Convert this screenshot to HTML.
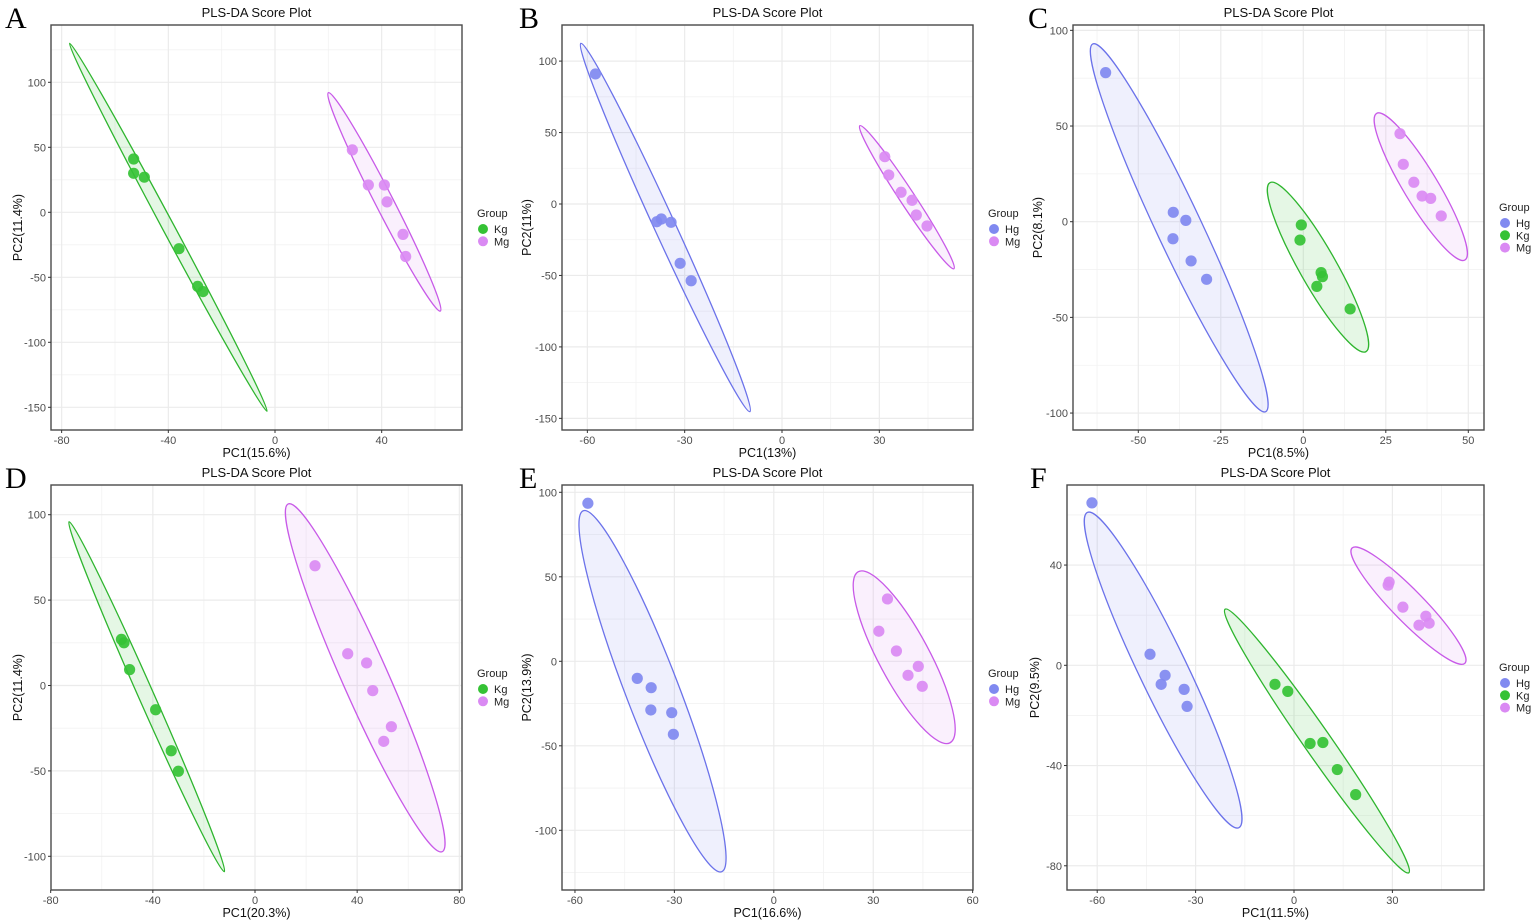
<!DOCTYPE html>
<html><head><meta charset="utf-8">
<style>
html,body{margin:0;padding:0;background:#fff;}
svg{display:block;font-family:"Liberation Sans",sans-serif;}
</style></head>
<body>
<svg id="fig" width="1535" height="923" viewBox="0 0 1535 923" xmlns="http://www.w3.org/2000/svg"></svg>
<script>
// ---- data (PC1 / PC2 scores) ----
const groupNames = ["Hg","Kg","Mg"];
// Panel A
const aKgX = [-53,-53,-49,-36,-29,-27];
const aKgY = [41,30,27,-28,-57,-61];
const aMgX = [29,35,41,42,48,49];
const aMgY = [48,21,21,8,-17,-34];
// Panel B
const bHgX = [-57.5,-38.6,-37.2,-34.2,-31.4,-28];
const bHgY = [91,-12.4,-10.5,-12.8,-41.5,-53.7];
const bMgX = [31.7,32.9,36.7,40.1,41.4,44.7];
const bMgY = [33.1,20.3,8.2,2.6,-7.7,-15.4];
// Panel C
const cHgX = [-59.9,-39.4,-35.6,-39.5,-34,-29.3];
const cHgY = [77.9,4.9,0.7,-8.9,-20.5,-30.1];
const cKgX = [-0.6,-1,5.4,5.8,4.1,14.2];
const cKgY = [-1.7,-9.6,-26.6,-28.7,-33.8,-45.6];
const cMgX = [29.3,30.3,33.5,36,38.6,41.8];
const cMgY = [46,30,20.6,13.4,12.2,3];
// Panel D
const dKgX = [-52.3,-51.3,-49.1,-38.9,-32.8,-30];
const dKgY = [27,25,9.3,-14.2,-38.2,-50.2];
const dMgX = [23.5,36.3,43.7,46.1,53.4,50.4];
const dMgY = [70.1,18.6,13.2,-3,-24.1,-32.7];
// Panel E
const eHgX = [-56.1,-41.2,-37,-37.1,-30.8,-30.3];
const eHgY = [93.5,-10.1,-15.6,-28.8,-30.4,-43.2];
const eMgX = [34.3,31.7,37,43.6,40.5,44.8];
const eMgY = [36.9,17.8,6.1,-3,-8.3,-14.8];
// Panel F
const fHgX = [-61.6,-43.9,-39.3,-40.5,-33.5,-32.6];
const fHgY = [64.8,4.4,-4,-7.6,-9.6,-16.4];
const fKgX = [-5.8,-1.9,4.9,8.8,13.2,18.8];
const fKgY = [-7.6,-10.4,-31.2,-30.8,-41.6,-51.6];
const fMgX = [29,28.7,33.2,40.2,38.1,41.2];
const fMgY = [33.2,32,23.2,19.6,16,16.8];
// confidence ellipse major-axis tips (data units) [x1,y1,x2,y2] and minor/major ratio
const aKgEll = [-77,130,-3,-153, 0.028];
const aMgEll = [20,92,62,-76, 0.073];
const bHgEll = [-62,112.4,-9.9,-145.3, 0.052];
const bMgEll = [24,54.8,53,-45.3, 0.088];
const cHgEll = [-63.8,92.9,-11.4,-99.3, 0.111];
const cKgEll = [-10.1,20.4,19,-67.9, 0.19];
const cMgEll = [22.2,56.6,49,-20, 0.2];
const dKgEll = [-72.8,95.9,-12,-109, 0.04];
const dMgEll = [13,106.3,73.3,-97.3, 0.12];
const eHgEll = [-57.5,89.1,-15.7,-124.5, 0.137];
const eMgEll = [25.5,53,53.2,-48.2, 0.26];
const fHgEll = [-63,61,-16.8,-64.8, 0.137];
const fKgEll = [-21,22.4,35,-82.8, 0.084];
const fMgEll = [17.7,46.8,52.1,0.8, 0.195];
// tick labels
const aXTicks=[-80,-40,0,40], aYTicks=[-150,-100,-50,0,50,100];
const bXTicks=[-60,-30,0,30], bYTicks=[-150,-100,-50,0,50,100];
const cXTicks=[-50,-25,0,25,50], cYTicks=[-100,-50,0,50,100];
const dXTicks=[-80,-40,0,40,80], dYTicks=[-100,-50,0,50,100];
const eXTicks=[-60,-30,0,30,60], eYTicks=[-100,-50,0,50,100];
const fXTicks=[-60,-30,0,30], fYTicks=[-80,-40,0,40];
const xTitles=["PC1(15.6%)","PC1(13%)","PC1(8.5%)","PC1(20.3%)","PC1(16.6%)","PC1(11.5%)"];
const yTitles=["PC2(11.4%)","PC2(11%)","PC2(8.1%)","PC2(11.4%)","PC2(13.9%)","PC2(9.5%)"];

// ---- layout ----
const COL = {Hg:{f:"#8089f0",s:"#6b72ea"},Kg:{f:"#35c235",s:"#2eb52e"},Mg:{f:"#da8af3",s:"#c85ae8"}};
const panels = [
 {id:"A",L:51,R:462,T:25,B:430,x0:275,xs:2.667,y0:212.3,ys:1.3,lx:5,ly:28,ylx:18,xt:aXTicks,yt:aYTicks,
  groups:[["Kg",aKgX,aKgY,aKgEll],["Mg",aMgX,aMgY,aMgEll]]},
 {id:"B",L:562,R:973,T:25,B:430,x0:782,xs:3.244,y0:204,ys:1.429,lx:519,ly:28,ylx:527,xt:bXTicks,yt:bYTicks,
  groups:[["Hg",bHgX,bHgY,bHgEll],["Mg",bMgX,bMgY,bMgEll]]},
 {id:"C",L:1073,R:1484,T:25,B:430,x0:1303.3,xs:3.3,y0:221.7,ys:1.9135,lx:1028,ly:28,ylx:1038,xt:cXTicks,yt:cYTicks,
  groups:[["Hg",cHgX,cHgY,cHgEll],["Kg",cKgX,cKgY,cKgEll],["Mg",cMgX,cMgY,cMgEll]]},
 {id:"D",L:51,R:462,T:485,B:890,x0:255,xs:2.554,y0:685.5,ys:1.708,lx:5,ly:488,ylx:18,xt:dXTicks,yt:dYTicks,
  groups:[["Kg",dKgX,dKgY,dKgEll],["Mg",dMgX,dMgY,dMgEll]]},
 {id:"E",L:562,R:973,T:485,B:890,x0:773.8,xs:3.314,y0:661.3,ys:1.69,lx:519,ly:488,ylx:527,xt:eXTicks,yt:eYTicks,
  groups:[["Hg",eHgX,eHgY,eHgEll],["Mg",eMgX,eMgY,eMgEll]]},
 {id:"F",L:1067,R:1484,T:485,B:890,x0:1294,xs:3.28,y0:665.3,ys:2.506,lx:1030,ly:488,ylx:1035,xt:fXTicks,yt:fYTicks,
  groups:[["Hg",fHgX,fHgY,fHgEll],["Kg",fKgX,fKgY,fKgEll],["Mg",fMgX,fMgY,fMgEll]]}
];
const NS="http://www.w3.org/2000/svg";
const svg=document.getElementById("fig");
function mk(tag,attrs,parent,text){const e=document.createElementNS(NS,tag);for(const k in attrs)e.setAttribute(k,attrs[k]);if(text!==undefined)e.textContent=text;(parent||svg).appendChild(e);return e;}

panels.forEach((p,pi)=>{
  const sx=v=>p.x0+v*p.xs, sy=v=>p.y0-v*p.ys;
  const g=mk("g",{});
  
  
  mk("rect",{x:p.L,y:p.T,width:p.R-p.L,height:p.B-p.T,fill:"#fff"},g);
  const grid=mk("g",{},g);
  
  
  const xstep=p.xt[1]-p.xt[0], ystep=p.yt[1]-p.yt[0];
  for(let v=p.xt[0]-xstep*1.5;v<=p.xt[p.xt.length-1]+xstep*1.5;v+=xstep){const X=sx(v);if(X>p.L&&X<p.R)mk("line",{x1:X,x2:X,y1:p.T,y2:p.B,stroke:"#f2f2f2","stroke-width":0.8},grid);}
  for(let v=p.yt[0]-ystep*1.5;v<=p.yt[p.yt.length-1]+ystep*1.5;v+=ystep){const Y=sy(v);if(Y>p.T&&Y<p.B)mk("line",{x1:p.L,x2:p.R,y1:Y,y2:Y,stroke:"#f2f2f2","stroke-width":0.8},grid);}
  p.xt.forEach(v=>{const X=sx(v);if(X>=p.L&&X<=p.R)mk("line",{x1:X,x2:X,y1:p.T,y2:p.B,stroke:"#ebebeb","stroke-width":1.2},grid);});
  p.yt.forEach(v=>{const Y=sy(v);mk("line",{x1:p.L,x2:p.R,y1:Y,y2:Y,stroke:"#ebebeb","stroke-width":1.2},grid);});
  p.groups.forEach(([name,xs,ys,el])=>{
    const x1=sx(el[0]),y1=sy(el[1]),x2=sx(el[2]),y2=sy(el[3]);
    const cx=(x1+x2)/2, cy=(y1+y2)/2, a=Math.hypot(x2-x1,y2-y1)/2, b=a*el[4];
    const ang=Math.atan2(y2-y1,x2-x1)*180/Math.PI;
    const e=mk("ellipse",{cx:cx,cy:cy,rx:a,ry:b,transform:`rotate(${ang} ${cx} ${cy})`,fill:COL[name].f,"fill-opacity":0.13,stroke:COL[name].s,"stroke-width":1.3},g);
    
    
  });
  p.groups.forEach(([name,xs,ys])=>{
    xs.forEach((v,i)=>{
      const c=mk("circle",{cx:sx(v),cy:sy(ys[i]),r:5.6,fill:COL[name].f,"fill-opacity":0.92},g);
      
      
    });
  });
  const border=mk("rect",{x:p.L,y:p.T,width:p.R-p.L,height:p.B-p.T,fill:"none",stroke:"#4a4a4a","stroke-width":1.4},g);
  
  
  p.xt.forEach(v=>{const X=sx(v);mk("line",{x1:X,x2:X,y1:p.B,y2:p.B+3,stroke:"#333"},g);
    const t=mk("text",{x:X,y:p.B+14,"text-anchor":"middle","font-size":11,fill:"#4d4d4d"},g,String(v));
    
    });
  p.yt.forEach(v=>{const Y=sy(v);mk("line",{x1:p.L-3,x2:p.L,y1:Y,y2:Y,stroke:"#333"},g);
    const t=mk("text",{x:p.L-5,y:Y+4,"text-anchor":"end","font-size":11,fill:"#4d4d4d"},g,String(v));
    
    });
  const cxm=(p.L+p.R)/2;
  const title=mk("text",{x:cxm,y:p.T-8,"text-anchor":"middle","font-size":13,fill:"#111"},g,"PLS-DA Score Plot");
  
  
  const xl=mk("text",{x:cxm,y:p.B+27,"text-anchor":"middle","font-size":12.5,fill:"#111"},g,xTitles[pi]);
  
  
  const ym=(p.T+p.B)/2;
  const yl=mk("text",{x:p.ylx,y:ym,"text-anchor":"middle","font-size":12.5,fill:"#111",transform:`rotate(-90 ${p.ylx} ${ym}) translate(0 4)`},g,yTitles[pi]);
  
  
  const lt=mk("text",{x:p.lx,y:p.ly,"font-size":30,"font-family":"Liberation Serif, serif",fill:"#000"},g,p.id);
  
  
  const n=p.groups.length;
  const lg=mk("g",{},g);
  
  
  const gx=p.R+15, gy=(n===3? p.T+186 : p.T+192);
  mk("text",{x:gx,y:gy,"font-size":11,fill:"#222"},lg,"Group");
  p.groups.forEach(([name],i)=>{
    const yy=gy+12+i*12.3;
    const c=mk("circle",{cx:gx+6,cy:yy,r:5,fill:COL[name].f},lg);
    
    
    mk("text",{x:gx+17,y:yy+4,"font-size":11,fill:"#222"},lg,name);
  });
});
</script>
</body></html>
